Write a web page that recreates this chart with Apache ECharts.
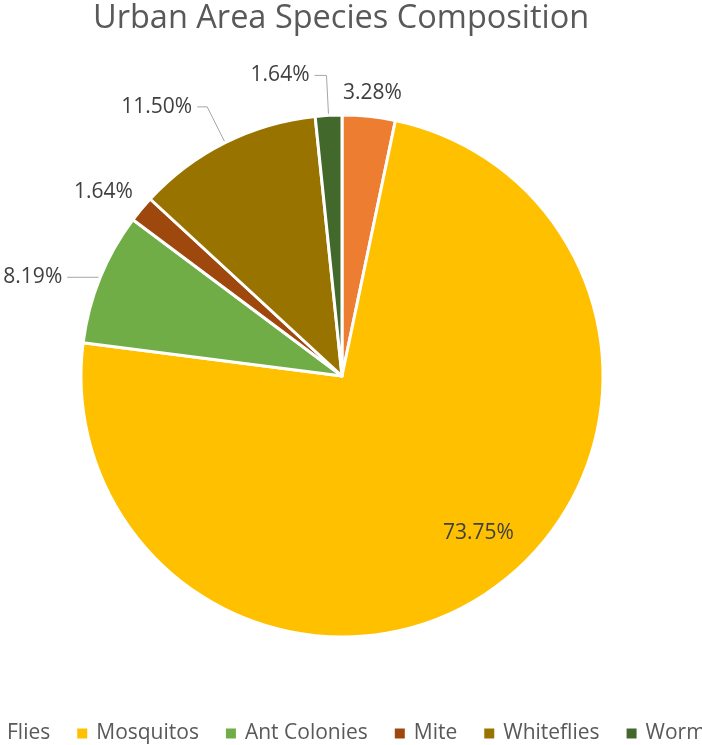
<!DOCTYPE html>
<html>
<head>
<meta charset="utf-8">
<script src="https://cdn.jsdelivr.net/npm/echarts@6/dist/echarts.min.js"></script>
<style>
  html, body { margin: 0; padding: 0; background: #fff; }
  #chart { width: 702px; height: 745px; }
</style>
</head>
<body>
<div id="chart"></div>
<script>
const categories = ['Flies', 'Mosquitos', 'Ant Colonies', 'Mite', 'Whiteflies', 'Worm'];
const shares = [3.28, 73.75, 8.19, 1.64, 11.50, 1.64];
const colors = ['#ED7D31', '#FFC000', '#70AD47', '#9E480E', '#997300', '#43682B'];

// leader line lengths per slice [length, length2, visible]
const leaders = [[10, 0, false], [0, 0, false], [2, 31, true], [20, 0, false], [40, 10, true], [40, 12, true]];

const chart = echarts.init(document.getElementById('chart'));

const data = categories.map((name, i) => {
  const item = {
    name: name,
    value: shares[i],
    itemStyle: { color: colors[i] },
    labelLine: { length: leaders[i][0], length2: leaders[i][1], show: leaders[i][2] }
  };
  if (i === 1) item.label = { position: 'inside' };
  return item;
});

chart.setOption({
  animation: false,
  title: {
    text: 'Urban Area Species Composition',
    left: 88,
    top: -3,
    textStyle: {
      fontFamily: 'Open Sans',
      fontSize: 32.5,
      fontWeight: 'normal',
      color: '#595959'
    }
  },
  // legend is wider than the canvas, it spills over both edges like the original
  legend: {
    data: categories,
    left: -12,
    top: 723,
    width: 900,
    padding: 0,
    itemWidth: 10,
    itemHeight: 10,
    itemGap: 27,
    icon: 'rect',
    itemStyle: { borderWidth: 0 },
    textStyle: { fontFamily: 'Open Sans', fontSize: 21, color: '#595959', padding: [0, 0, 0, 4] }
  },
  series: [{
    type: 'pie',
    center: [342, 376],
    radius: 261,
    startAngle: 90,
    clockwise: true,
    data: data,
    itemStyle: { borderColor: '#fff', borderWidth: 3 },
    label: {
      position: 'outside',
      overflow: 'none',
      formatter: (p) => p.value.toFixed(2) + '%',
      fontFamily: 'Open Sans',
      fontSize: 21,
      color: '#404040'
    },
    labelLine: {
      lineStyle: { color: '#A6A6A6', width: 1 }
    },
    labelLayout: (params) => {
      if (params.dataIndex === 1) return { dx: 59, dy: 48 };
      if (params.dataIndex === 0) return { dx: -32, dy: -13 };
      if (params.dataIndex === 3) return { dx: 12, dy: -4 };
      return {};
    },
    emphasis: { disabled: true }
  }]
});
</script>
</body>
</html>
